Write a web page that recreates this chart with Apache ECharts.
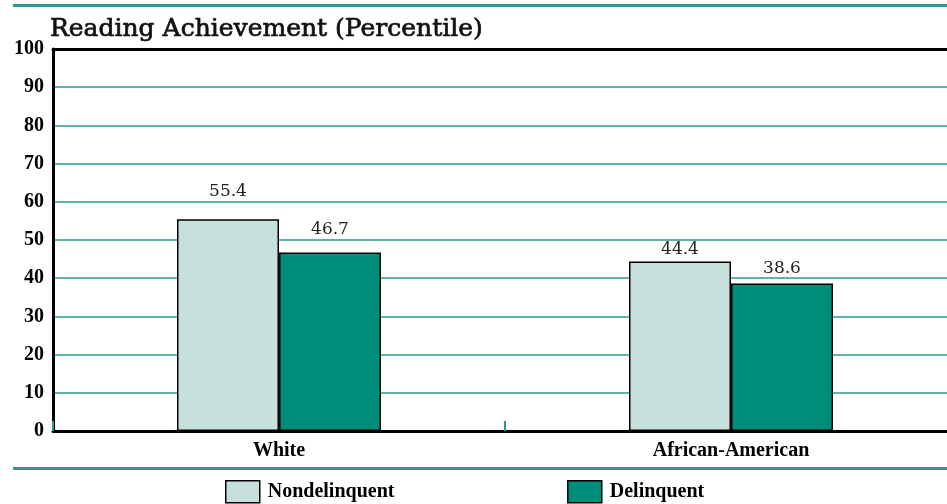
<!DOCTYPE html>
<html><head><meta charset="utf-8">
<script src="https://cdn.jsdelivr.net/npm/echarts@6/dist/echarts.min.js"></script>
<style>html,body{margin:0;padding:0;background:#fff}#c{width:947px;height:504px}</style>
</head><body><div id="c"></div>
<script>
const categories = ['White', 'African-American'];
const seriesNames = ['Nondelinquent', 'Delinquent'];
const nondelinquent = [55.4, 44.4];
const delinquent = [46.7, 38.6];
const yTicks = [0, 10, 20, 30, 40, 50, 60, 70, 80, 90, 100];

const TEAL = '#2a9a8c';
const LIGHT = '#c6e1dc';
const DARK = '#008e7b';
const serifBold = {fontFamily: 'Liberation Serif', fontWeight: 'bold', fontSize: 20, color: '#000'};
// label distance per bar (style only)
const labelDist = [[19, 3], [15, 6]];

const chart = echarts.init(document.getElementById('c'));
function mkSeries(name, vals, color, si) {
  return {
    name: name, type: 'bar', xAxisIndex: 0, barWidth: 102, barGap: '0%',
    itemStyle: {color: color, borderColor: '#000', borderWidth: 1.5},
    data: vals.map((v, i) => ({value: v, label: {distance: labelDist[si][i]}})),
    label: {show: true, position: 'top', fontFamily: 'DejaVu Serif', fontSize: 17, color: '#222'},
    emphasis: {disabled: true}
  };
}
const legendBase = {top: 480, padding: 0, itemWidth: 34, itemHeight: 22, icon: 'rect',
  itemStyle: {borderColor: '#000', borderWidth: 1.5},
  textStyle: Object.assign({padding: [0, 0, 0, 3]}, serifBold), selectedMode: false};
chart.setOption({
  animation: false,
  title: {text: 'Reading Achievement (Percentile)', left: 45, top: 12, padding: 5,
    textStyle: {fontFamily: 'DejaVu Serif', fontSize: 25, fontWeight: 'normal', color: '#111',
      textBorderColor: '#111', textBorderWidth: 0.7}},
  grid: {left: 53, top: 49, width: 904, height: 382, containLabel: false, outerBoundsMode: 'none'},
  legend: [
    Object.assign({data: [seriesNames[0]], left: 225}, legendBase),
    Object.assign({data: [seriesNames[1]], left: 567}, legendBase)
  ],
  xAxis: [
    {type: 'category', data: categories, position: 'bottom',
     axisLine: {lineStyle: {color: '#000', width: 3}},
     axisTick: {show: true, inside: true, length: 10, lineStyle: {color: TEAL, width: 2}},
     axisLabel: Object.assign({margin: 10}, serifBold)},
    {type: 'category', data: categories, position: 'top',
     axisLine: {lineStyle: {color: '#000', width: 3}},
     axisTick: {show: false}, axisLabel: {show: false}}
  ],
  yAxis: {type: 'value', min: yTicks[0], max: yTicks[yTicks.length - 1], interval: yTicks[1] - yTicks[0],
    axisLine: {show: true, lineStyle: {color: '#000', width: 3}},
    axisTick: {show: false},
    axisLabel: Object.assign({margin: 9}, serifBold),
    splitLine: {lineStyle: {color: TEAL, width: 1.5}}},
  series: [mkSeries(seriesNames[0], nondelinquent, LIGHT, 0), mkSeries(seriesNames[1], delinquent, DARK, 1)],
  graphic: [
    {type: 'rect', shape: {x: 13, y: 4, width: 940, height: 3}, style: {fill: TEAL}, silent: true},
    {type: 'rect', shape: {x: 13, y: 467, width: 940, height: 3}, style: {fill: TEAL}, silent: true}
  ]
});
</script></body></html>
